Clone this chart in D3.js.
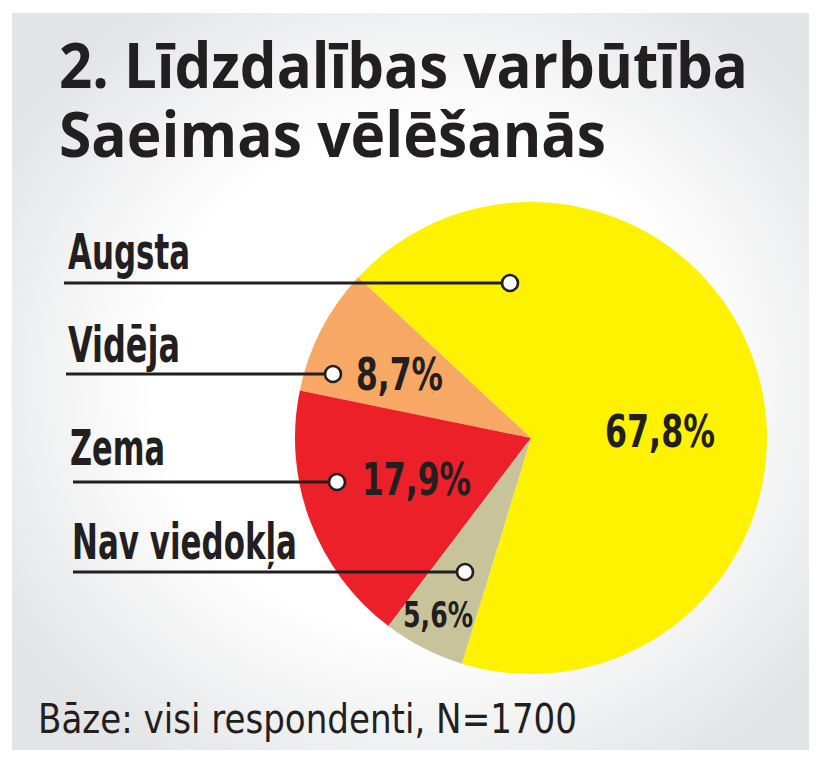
<!DOCTYPE html>
<html>
<head>
<meta charset="utf-8">
<script src="https://cdn.jsdelivr.net/npm/d3@7"></script>
<style>
  html, body { margin: 0; padding: 0; background: #ffffff; }
  svg { display: block; }
</style>
</head>
<body>
<svg id="chart" width="820" height="765"></svg>
<script>
// ---- data ----
const titleLines = ["2. Līdzdalības varbūtība", "Saeimas vēlēšanās"];
const categories = ["Augsta", "Vidēja", "Zema", "Nav viedokļa"];
const values = [67.8, 8.7, 17.9, 5.6];
const valueLabels = ["67,8%", "8,7%", "17,9%", "5,6%"];
const colors = ["#fff200", "#f6a864", "#ec2029", "#c8c39a"];
const footnote = "Bāze: visi respondenti, N=1700";

// ---- layout ----
const W = 820, H = 765;
const ink = "#231f20";
const cx = 531, cy = 438, R = 236;
const deg = Math.PI / 180;
const condensed = "'Liberation Sans Narrow', 'DejaVu Sans Condensed', 'Liberation Sans', Arial, sans-serif";

const svg = d3.select("#chart");

// background gradient panel
const defs = svg.append("defs");
const grad = defs.append("radialGradient")
  .attr("id", "bg")
  .attr("cx", "0.52").attr("cy", "0.5").attr("r", "0.62");
grad.append("stop").attr("offset", "0").attr("stop-color", "#ffffff");
grad.append("stop").attr("offset", "0.55").attr("stop-color", "#ffffff");
grad.append("stop").attr("offset", "1").attr("stop-color", "#e3e4e6");

svg.append("rect")
  .attr("x", 12).attr("y", 13).attr("width", 797).attr("height", 737)
  .attr("fill", "url(#bg)");

// title (one text block, two lines)
const titleLayout = [{ y: 88, len: 689 }, { y: 157, len: 547 }];
const title = svg.append("text")
  .attr("font-family", "'Open Sans', 'Noto Sans', sans-serif")
  .attr("font-weight", 700)
  .attr("font-size", 63)
  .attr("fill", ink);
title.selectAll("tspan").data(titleLines).join("tspan")
  .attr("x", 59)
  .attr("y", (d, i) => titleLayout[i].y)
  .attr("textLength", (d, i) => titleLayout[i].len)
  .attr("lengthAdjust", "spacingAndGlyphs")
  .text(d => d);

// pie
const pie = d3.pie().sort(null).value(d => d)
  .startAngle(197 * deg).endAngle(197 * deg - 2 * Math.PI);
const arcs = pie(values);
const arc = d3.arc().innerRadius(0).outerRadius(R);

const pieG = svg.append("g").attr("transform", `translate(${cx},${cy})`);
pieG.selectAll("path").data(arcs).join("path")
  .attr("d", arc)
  .attr("fill", (d, i) => colors[i]);

// category labels with leader lines
const labelLayout = [
  { tx: 68, ty: 269, tl: 122, lx0: 64, ly: 283, dx: 510 },
  { tx: 68, ty: 362, tl: 112, lx0: 66, ly: 374, dx: 333 },
  { tx: 70, ty: 465, tl: 95,  lx0: 73, ly: 482, dx: 337 },
  { tx: 72, ty: 559, tl: 225, lx0: 73, ly: 572, dx: 465 }
];

const labG = svg.append("g");
const lab = labG.selectAll("g").data(categories).join("g");
lab.append("line")
  .attr("x1", (d, i) => labelLayout[i].lx0)
  .attr("x2", (d, i) => labelLayout[i].dx)
  .attr("y1", (d, i) => labelLayout[i].ly)
  .attr("y2", (d, i) => labelLayout[i].ly)
  .attr("stroke", ink).attr("stroke-width", 3);
lab.append("circle")
  .attr("cx", (d, i) => labelLayout[i].dx)
  .attr("cy", (d, i) => labelLayout[i].ly)
  .attr("r", 8)
  .attr("fill", "#ffffff")
  .attr("stroke", ink).attr("stroke-width", 2.6);
lab.append("text")
  .attr("x", (d, i) => labelLayout[i].tx)
  .attr("y", (d, i) => labelLayout[i].ty)
  .attr("textLength", (d, i) => labelLayout[i].tl)
  .attr("lengthAdjust", "spacingAndGlyphs")
  .attr("font-family", condensed)
  .attr("font-weight", 700)
  .attr("font-size", 49)
  .attr("fill", ink)
  .text(d => d);

// value labels
const valueLayout = [
  { x: 605, y: 447, tl: 110, fs: 45 },
  { x: 356, y: 390, tl: 87,  fs: 45 },
  { x: 362, y: 495, tl: 109, fs: 45 },
  { x: 403, y: 627, tl: 70,  fs: 36 }
];
svg.append("g").selectAll("text").data(valueLabels).join("text")
  .attr("x", (d, i) => valueLayout[i].x)
  .attr("y", (d, i) => valueLayout[i].y)
  .attr("textLength", (d, i) => valueLayout[i].tl)
  .attr("lengthAdjust", "spacingAndGlyphs")
  .attr("font-family", condensed)
  .attr("font-weight", 700)
  .attr("font-size", (d, i) => valueLayout[i].fs)
  .attr("fill", ink)
  .text(d => d);

// footnote
svg.append("text")
  .attr("x", 38).attr("y", 733)
  .attr("textLength", 539)
  .attr("lengthAdjust", "spacingAndGlyphs")
  .attr("font-family", condensed)
  .attr("font-weight", 400)
  .attr("font-size", 41)
  .attr("fill", ink)
  .text(footnote);
</script>
</body>
</html>
